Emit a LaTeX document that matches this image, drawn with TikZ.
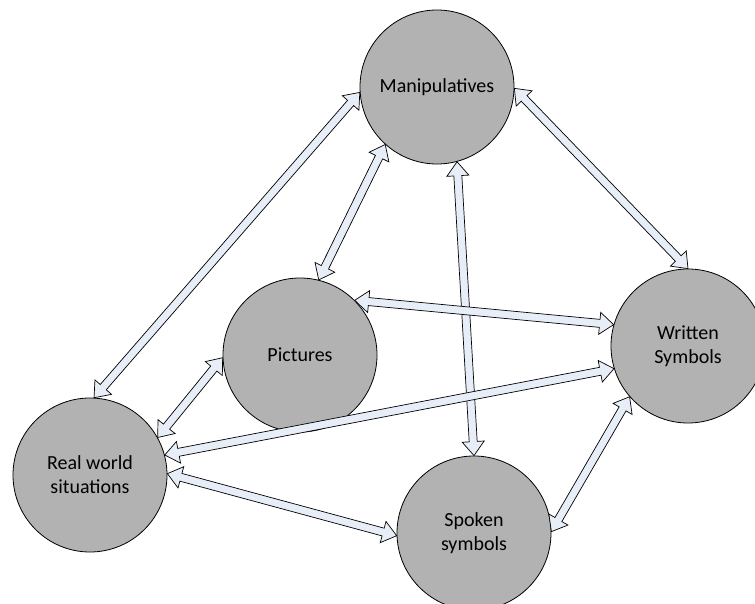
\documentclass[tikz,border=0pt]{standalone}
\usepackage{fontspec}
\setmainfont{Carlito}
\usetikzlibrary{calc}
\definecolor{circgray}{RGB}{178,178,178}
\definecolor{arrfill}{RGB}{232,238,248}
\tikzset{
  concept/.style={circle, draw=black, line width=0.8pt, fill=circgray, minimum size=154pt, inner sep=0pt, align=center, font=\fontsize{20}{24}\selectfont},
  arrowbody/.style={draw=black, line width=0.7pt, fill=arrfill, line join=miter}
}
\newcommand{\biarrow}[2]{%
  \path (#1) coordinate (tA) (#2) coordinate (tB);
  \coordinate (pA) at ($(tA)!14pt!(tB)$);
  \coordinate (pB) at ($(tB)!14pt!(tA)$);
  \filldraw[arrowbody] (tA) -- ($(pA)!11pt!90:(tB)$) -- ($(pA)!4pt!90:(tB)$)
    -- ($(pB)!4pt!-90:(tA)$) -- ($(pB)!11pt!-90:(tA)$) -- (tB)
    -- ($(pB)!11pt!90:(tA)$) -- ($(pB)!4pt!90:(tA)$)
    -- ($(pA)!4pt!-90:(tB)$) -- ($(pA)!11pt!-90:(tB)$) -- cycle;
}
\begin{document}
\begin{tikzpicture}[x=1pt,y=-1pt]
\useasboundingbox (0,0) rectangle (755,604);
\clip (0,0) rectangle (755,604);
\fill[white] (0,0) rectangle (755,604);
\node[concept] (man) at (437,87) {Manipulatives};
\node[concept] (pic) at (300,355) {Pictures};
\node[concept] (wri) at (688,346) {Written\\Symbols};
\node[concept] (rea) at (90,475) {Real world\\situations};
\node[concept] (spo) at (474,533) {Spoken\\symbols};
\biarrow{man.184}{rea.87}
\biarrow{man.228}{pic.76}
\biarrow{man.359}{wri.90}
\biarrow{man.285}{spo.90}
\biarrow{pic.45}{wri.164}
\biarrow{pic.182}{rea.29}
\biarrow{rea.15}{wri.197}
\biarrow{rea.1}{spo.182}
\biarrow{spo.1}{wri.221}
\end{tikzpicture}
\end{document}
